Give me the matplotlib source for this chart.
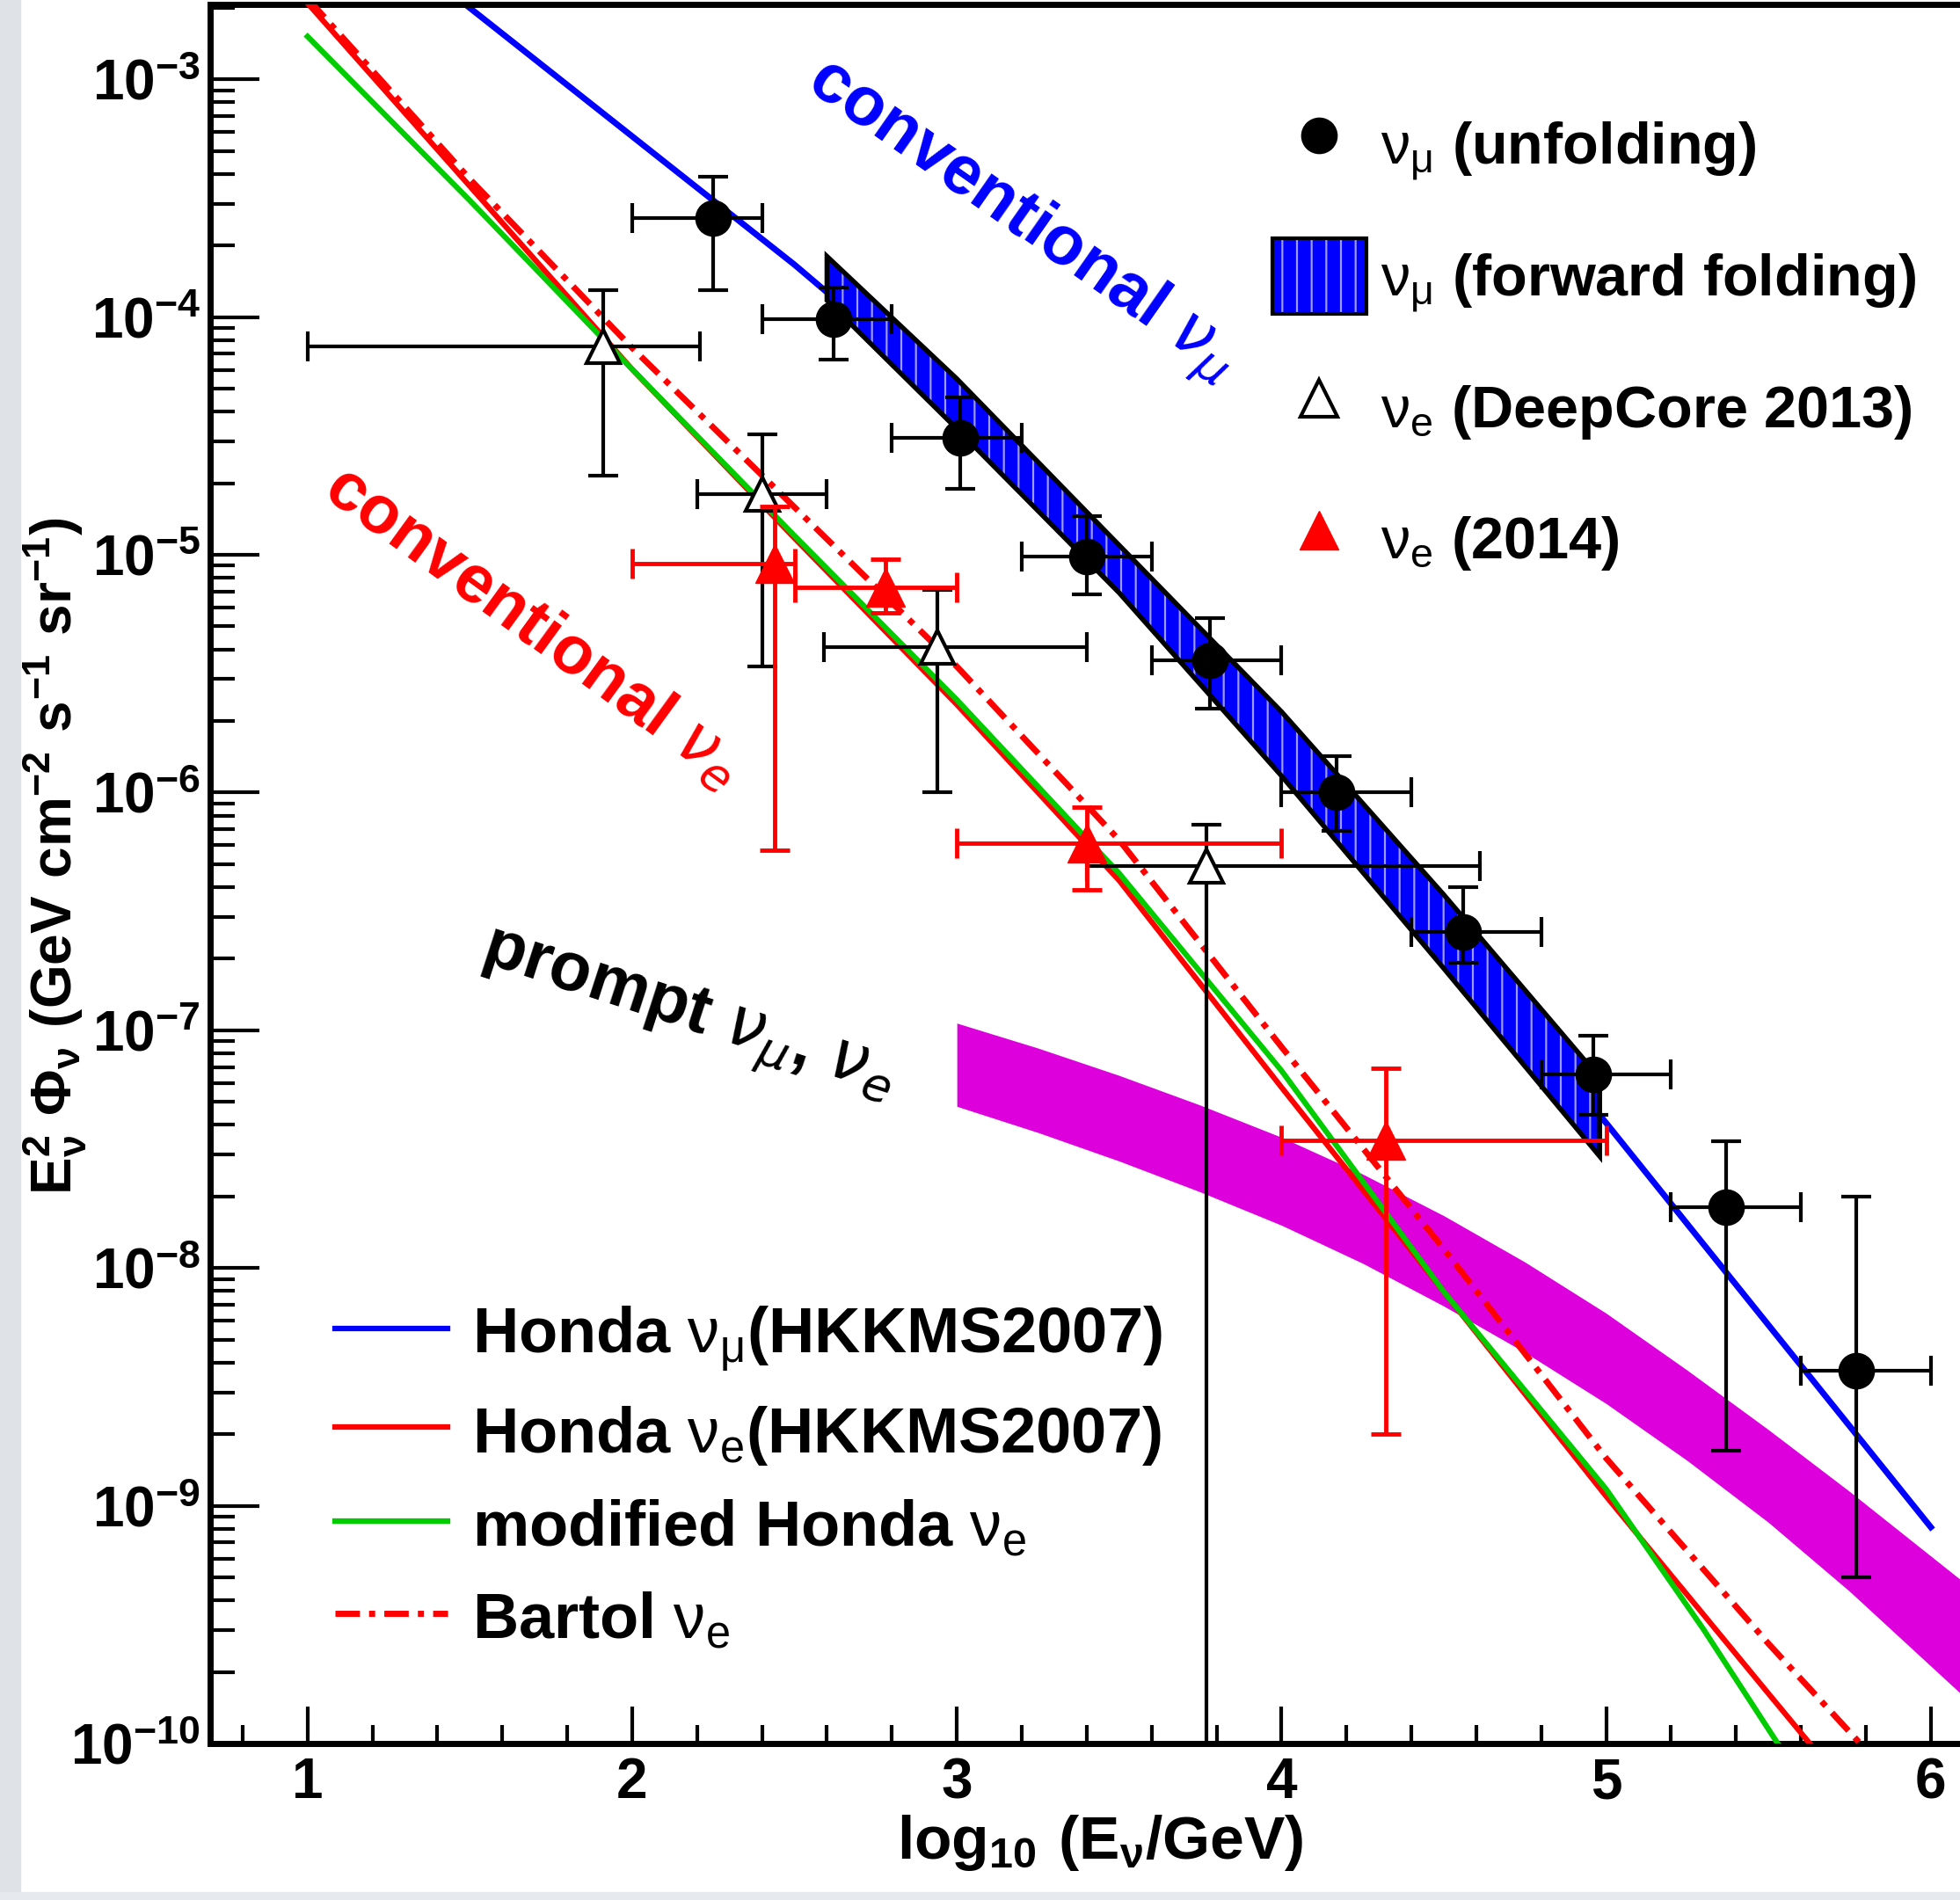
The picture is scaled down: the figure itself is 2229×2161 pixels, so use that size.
import matplotlib.pyplot as plt
import numpy as np
from matplotlib.lines import Line2D
from matplotlib.patches import Patch, Rectangle
from matplotlib.ticker import FixedLocator, MultipleLocator, LogLocator, NullFormatter

plt.rcParams['font.family'] = ['Liberation Sans', 'DejaVu Sans']
plt.rcParams['font.weight'] = 'bold'
plt.rcParams['axes.labelweight'] = 'bold'
plt.rcParams['hatch.linewidth'] = 1.6
# thin greek letters like the original (ROOT symbol font)
plt.rcParams['mathtext.fontset'] = 'custom'
plt.rcParams['mathtext.rm'] = 'Liberation Sans:weight=normal'
plt.rcParams['mathtext.it'] = 'DejaVu Sans:slant=italic:weight=normal'
plt.rcParams['mathtext.bf'] = 'Liberation Sans:weight=bold'
plt.rcParams['mathtext.sf'] = 'Liberation Sans:weight=normal'

########## model curves: log10(E) -> log10(E^2 Phi) ##########
honda_numu_x = [1.0, 1.5, 2.0, 2.5, 3.0, 3.5, 4.0, 4.5, 5.0, 5.5, 6.0]
honda_numu_log = [-2.16, -2.70, -3.24, -3.78, -4.36, -5.05, -5.78, -6.56, -7.39, -8.24, -9.09]

honda_nue_x = [1.0, 1.5, 2.0, 2.5, 3.0, 3.5, 4.0, 4.5, 5.0, 5.5, 5.7]
honda_nue_log = [-2.68, -3.45, -4.22, -4.93, -5.63, -6.37, -7.24, -8.10, -8.96, -9.79, -10.12]

mod_honda_x = [1.0, 1.5, 2.0, 2.5, 3.0, 3.5, 4.0, 4.5, 5.0, 5.3, 5.6]
mod_honda_log = [-2.82, -3.51, -4.22, -4.92, -5.61, -6.34, -7.17, -8.10, -8.93, -9.52, -10.15]

bartol_x = [1.0, 1.5, 2.0, 2.5, 3.0, 3.5, 4.0, 4.5, 5.0, 5.5, 5.85]
bartol_log = [-2.66, -3.42, -4.13, -4.80, -5.47, -6.20, -7.07, -7.92, -8.80, -9.58, -10.1]

# forward folding band (nu_mu)
ff_x = [2.60, 3.00, 3.50, 4.00, 4.50, 4.98]
ff_up_log = [-3.745, -4.26, -4.96, -5.66, -6.43, -7.20]
ff_lo_log = [-3.93, -4.47, -5.16, -5.93, -6.74, -7.53]

# prompt band
prompt_x = [3.0, 3.25, 3.5, 3.75, 4.0, 4.25, 4.5, 4.75, 5.0, 5.25, 5.5, 5.75, 6.1]
prompt_up_log = [-6.97, -7.075, -7.19, -7.315, -7.45, -7.605, -7.78, -7.975, -8.19, -8.43,
                 -8.68, -8.94, -9.32]
prompt_lo_log = [-7.32, -7.43, -7.55, -7.68, -7.82, -7.98, -8.16, -8.355, -8.57, -8.81,
                 -9.07, -9.36, -9.80]

########## data points ##########
# nu_mu unfolding
numu_x = [2.25, 2.62, 3.01, 3.40, 3.78, 4.17, 4.56, 4.96, 5.37, 5.77]
numu_y = [2.6e-4, 9.8e-5, 3.1e-5, 9.8e-6, 3.6e-6, 1.0e-6, 2.6e-7, 6.5e-8, 1.8e-8, 3.7e-9]
numu_yhi = [3.9e-4, 1.33e-4, 4.6e-5, 1.45e-5, 5.4e-6, 1.42e-6, 4.0e-7, 9.5e-8, 3.4e-8, 2.0e-8]
numu_ylo = [1.3e-4, 6.6e-5, 1.9e-5, 6.8e-6, 2.25e-6, 6.9e-7, 1.93e-7, 4.4e-8, 1.7e-9, 5.0e-10]
numu_xlo = [2.0, 2.4, 2.8, 3.2, 3.6, 4.0, 4.4, 4.8, 5.2, 5.6]
numu_xhi = [2.4, 2.8, 3.2, 3.6, 4.0, 4.4, 4.8, 5.2, 5.6, 6.0]

# nu_e DeepCore 2013
dc_x = [1.91, 2.40, 2.94, 3.77]
dc_y = [7.5e-5, 1.8e-5, 4.1e-6, 4.9e-7]
dc_yhi = [1.3e-4, 3.2e-5, 7.1e-6, 7.3e-7]
dc_ylo = [2.16e-5, 3.4e-6, 1.0e-6, 1e-11]
dc_xlo = [1.0, 2.2, 2.59, 3.4]
dc_xhi = [2.21, 2.6, 3.4, 4.61]

# nu_e 2014
nue_x = [2.44, 2.78, 3.40, 4.32]
nue_y = [9.2e-6, 7.3e-6, 6.1e-7, 3.45e-8]
nue_yhi = [1.6e-5, 9.6e-6, 8.7e-7, 6.9e-8]
nue_ylo = [5.7e-7, 5.7e-6, 3.9e-7, 2.0e-9]
nue_xlo = [2.0, 2.5, 3.0, 4.0]
nue_xhi = [2.5, 3.0, 4.0, 5.0]

BLUE = '#0000ff'
RED = '#ff0000'
GREEN = '#00cc00'
MAGENTA = '#dd00dd'

fig = plt.figure(figsize=(22.29, 21.61), dpi=100)
fig.patch.set_facecolor('white')
# slide background strips
fig.add_artist(Rectangle((0, 0), 0.0105, 1, transform=fig.transFigure, color='#dfe3e8', zorder=-5))
fig.add_artist(Rectangle((0, 0), 1, 0.004, transform=fig.transFigure, color='#e6e9ee', zorder=-5))

ax = fig.add_axes([239 / 2229, 178 / 2161, 1990 / 2229, 1978 / 2161])


def err(v, lo, hi):
    v, lo, hi = np.array(v), np.array(lo), np.array(hi)
    return [v - lo, hi - v]


# prompt band
ax.fill_between(prompt_x, 10 ** np.array(prompt_lo_log), 10 ** np.array(prompt_up_log),
                color=MAGENTA, lw=0, zorder=1)

# model lines
ax.plot(honda_numu_x, 10 ** np.array(honda_numu_log), color=BLUE, lw=5, zorder=2)
ax.plot(honda_nue_x, 10 ** np.array(honda_nue_log), color=RED, lw=4.5, zorder=3)
ax.plot(mod_honda_x, 10 ** np.array(mod_honda_log), color=GREEN, lw=4.5, zorder=3)
ax.plot(bartol_x, 10 ** np.array(bartol_log), color=RED, lw=5, dashes=[4, 1.5, 1, 1.5], zorder=3)

# forward folding band
ff_up = 10 ** np.array(ff_up_log)
ff_lo = 10 ** np.array(ff_lo_log)
ax.fill_between(ff_x, ff_lo, ff_up, facecolor=BLUE, edgecolor='#9a9aff', hatch='|', lw=0, zorder=4)
ax.fill(np.r_[ff_x, ff_x[::-1]], np.r_[ff_up, ff_lo[::-1]], facecolor='none',
        edgecolor='black', lw=4, zorder=4)

# data points
ax.errorbar(dc_x, dc_y, xerr=err(dc_x, dc_xlo, dc_xhi), yerr=err(dc_y, dc_ylo, dc_yhi),
            fmt='^', color='black', mfc='white', mec='black', mew=3, ms=28,
            elinewidth=3, capsize=12, capthick=3, zorder=6)
ax.errorbar(nue_x, nue_y, xerr=err(nue_x, nue_xlo, nue_xhi), yerr=err(nue_y, nue_ylo, nue_yhi),
            fmt='^', color=RED, ms=32, elinewidth=3.5, capsize=12, capthick=3.5, zorder=7)
ax.errorbar(numu_x, numu_y, xerr=err(numu_x, numu_xlo, numu_xhi), yerr=err(numu_y, numu_ylo, numu_yhi),
            fmt='o', color='black', ms=29, elinewidth=3, capsize=12, capthick=3, zorder=8)

# annotations
ax.text(2.53, 10 ** -3.03, r'conventional $\nu_{\mu}$', color=BLUE, fontsize=56,
        rotation=-35, rotation_mode='anchor', ha='left', va='baseline')
ax.text(1.04, 10 ** -4.75, r'conventional $\nu_{e}$', color=RED, fontsize=55,
        rotation=-36, rotation_mode='anchor', ha='left', va='baseline')
ax.text(1.53, 10 ** -6.71, r'prompt $\nu_{\mu}$, $\nu_{e}$', color='black', fontsize=56,
        rotation=-18, rotation_mode='anchor', ha='left', va='baseline')

# axes
ax.set_xlim(0.7, 6.09)
ax.set_yscale('log')
ax.set_ylim(1e-10, 10 ** -2.685)

ax.xaxis.set_major_locator(FixedLocator([1, 2, 3, 4, 5, 6]))
ax.xaxis.set_minor_locator(MultipleLocator(0.2))
ax.set_xticklabels(['1', '2', '3', '4', '5', '6'])

ydec = [-10, -9, -8, -7, -6, -5, -4, -3]
ax.yaxis.set_major_locator(FixedLocator([10.0 ** d for d in ydec]))
ax.set_yticklabels([r'$\mathregular{10^{%d}}$' % d for d in ydec])
ax.yaxis.set_minor_locator(LogLocator(base=10, subs=np.arange(2, 10), numticks=30))
ax.yaxis.set_minor_formatter(NullFormatter())

ax.tick_params(axis='both', which='both', direction='in', labelsize=46, width=3)
ax.tick_params(axis='y', which='major', length=40, pad=8)
ax.tick_params(axis='y', which='minor', length=20)
ax.tick_params(axis='x', which='major', length=30, pad=11)
ax.tick_params(axis='x', which='minor', length=15)
ax.tick_params(top=False, right=False, which='both')

for s in ['left', 'bottom', 'top']:
    ax.spines[s].set_linewidth(5)
ax.spines['right'].set_visible(False)

ax.set_xlabel(r'$\mathregular{log_{10}\ (E_{ν}/GeV)}$', fontsize=50)
ax.xaxis.set_label_coords(0.5085, -0.04)
ax.set_ylabel(r'$\mathregular{E_{ν}^{2}\ Φ_{ν}\ (GeV\ cm^{-2}\ s^{-1}\ sr^{-1})}$', fontsize=46)
ax.yaxis.set_label_coords(-0.07, 0.51)

# legends
h_pts = [
    Line2D([], [], ls='none', marker='o', color='black', ms=29),
    (Patch(facecolor=BLUE, edgecolor='#9a9aff', hatch='|', lw=0),
     Patch(facecolor='none', edgecolor='black', lw=3)),
    Line2D([], [], ls='none', marker='^', mfc='white', mec='black', mew=3, ms=30),
    Line2D([], [], ls='none', marker='^', color=RED, ms=32),
]
l_pts = [r'$\mathrm{ν_{μ}}$ (unfolding)', r'$\mathrm{ν_{μ}}$ (forward folding)',
         r'$\mathrm{ν_{e}}$ (DeepCore 2013)', r'$\mathrm{ν_{e}}$ (2014)']
leg1 = ax.legend(h_pts, l_pts, loc='upper left', bbox_to_anchor=(0.607, 0.941), frameon=False,
                 fontsize=48, handlelength=1.6, handleheight=1.6, labelspacing=0.96,
                 handletextpad=0.24, borderpad=0, borderaxespad=0)
ax.add_artist(leg1)

h_lines = [
    Line2D([], [], color=BLUE, lw=4.5),
    Line2D([], [], color=RED, lw=4.5),
    Line2D([], [], color=GREEN, lw=4.5),
    Line2D([], [], color=RED, lw=5, dashes=[4, 1.5, 1, 1.5]),
]
l_lines = [r'Honda $\mathrm{ν_{μ}}$(HKKMS2007)', r'Honda $\mathrm{ν_{e}}$(HKKMS2007)',
           r'modified Honda $\mathrm{ν_{e}}$', r'Bartol $\mathrm{ν_{e}}$']
ax.legend(h_lines, l_lines, loc='upper left', bbox_to_anchor=(0.0714, 0.2533), frameon=False,
          fontsize=52, handlelength=1.77, handleheight=1.0, labelspacing=0.45,
          handletextpad=0.39, borderpad=0, borderaxespad=0)

fig.savefig('out.png', dpi=100)
